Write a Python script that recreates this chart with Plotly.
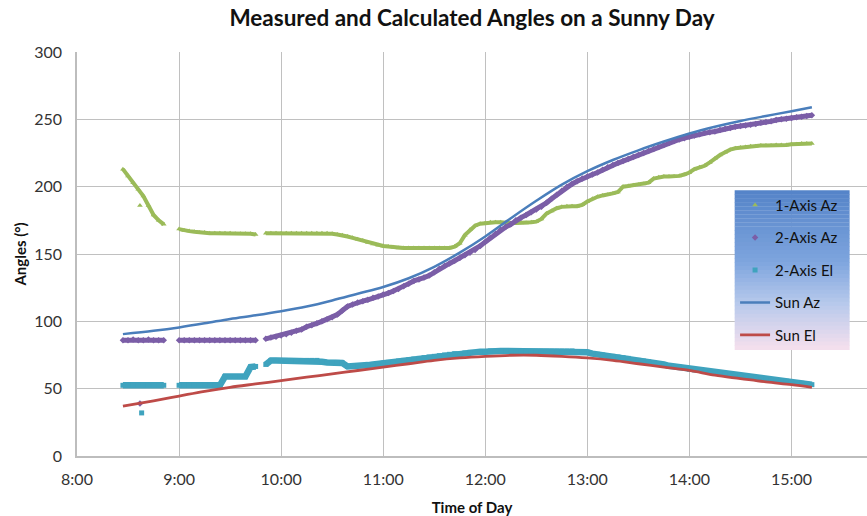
import plotly.graph_objects as go

# ---------------- data ----------------
title_text = "Measured and Calculated Angles on a Sunny Day"
x_tick_vals = [8, 9, 10, 11, 12, 13, 14, 15]
x_tick_text = ["8:00", "9:00", "10:00", "11:00", "12:00", "13:00", "14:00", "15:00"]

# measured samples every 3 minutes, 8:27 .. 15:12 (minutes after midnight)
meas_minutes = list(range(507, 913, 3))

axis1_az = [
    213, 208, 203, 198, 193, 186, 179, 175, 172, None,
    None, 168.5, 167.5, 167, 166.5, 166, 166, 165.5, 165.5, 165.5,
    165.5, 165.5, 165, 165, 165, 165, 164.5, None, 165.5, 165.5,
    165.5, 165.5, 165.5, 165.5, 165.5, 165.5, 165.5, 165.5, 165.5, 165.5,
    165.5, 165, 164.5, 164, 163, 162, 161, 160, 158.5, 157.5,
    156.5, 156, 155.5, 155, 154.5, 154.5, 154.5, 154.5, 154.5, 154.5,
    154.5, 154.5, 154.5, 154.5, 154.5, 155.5, 158, 164, 168, 171,
    172.5, 173, 173.5, 173.5, 173.5, 173, 173, 173, 173, 173,
    173.5, 174, 176, 180, 182, 184, 185, 185.5, 185.5, 185.5,
    186.5, 189, 191, 192.5, 193.5, 194, 195, 196, 200, 200.5,
    201, 201.5, 202, 203, 206, 207, 207.5, 207.5, 207.5, 208,
    209, 210.5, 213, 214.5, 215.5, 218, 221, 223.5, 225.5, 227.5,
    228.5, 229, 229.5, 230, 230, 230.5, 230.5, 230.5, 231, 231,
    231, 231.5, 231.5, 232, 232, 232,
]
axis2_az = [
    86, 86, 86.5, 86, 86, 86.5, 86, 86, 86, None,
    None, 86, 86, 86, 86, 86, 86, 86, 86, 86,
    86, 86, 86, 86, 86, 86, 86, None, 87, 88,
    88.5, 89.5, 90.5, 91.5, 93, 94, 96, 97, 98.5, 100,
    101.5, 103, 105, 108, 111, 112.5, 114, 115, 116, 117.5,
    118.5, 120, 121, 122.5, 124, 126, 128, 130, 131, 132.5,
    134, 136.5, 139, 141, 143, 145, 147, 149, 151, 153,
    156, 159, 162, 165, 168, 170, 172, 175, 177, 179,
    181, 183, 185, 188, 191, 194, 197, 200, 202, 204,
    206, 207.5, 209, 210.5, 212.5, 214.5, 216, 217.5, 219, 220.5,
    222, 223.5, 225, 226.5, 228, 229.5, 231, 232.5, 234, 235,
    236, 237, 238, 239, 240, 240.5, 241, 242, 243, 243.5,
    244.5, 245, 245.5, 246, 246.5, 247.5, 248, 248.5, 249.5, 250,
    250.5, 251, 251.5, 252, 252.5, 253,
]
axis2_el = [
    52.5, 52.5, 52.5, 52.5, 52.5, 52.5, 52.5, 52.5, 52.5, None,
    None, 52.5, 52.5, 52.5, 52.5, 52.5, 52.5, 52.5, 52.5, 52.5,
    59, 59, 59, 59, 59, 66, 66.5, None, 68, 71,
    71, 71, 71, 71, 71, 71, 71, 71, 71, 70,
    69.5, 69.5, 69.5, 69, 66.5, 66.5, 67, 67, 67.5, 68,
    68.5, 69, 69.5, 70, 70.5, 71, 71.5, 72, 72.5, 73,
    73.5, 74, 74.5, 75, 75.5, 76, 76, 76.5, 77, 77,
    77.5, 77.5, 78, 78, 78, 78, 78, 78, 78, 78,
    78, 78, 78, 78, 78, 78, 78, 78, 78, 77.5,
    77.5, 77, 76, 75.5, 75, 74.5, 74, 73.5, 73, 72.5,
    71.5, 71, 70.5, 70, 69, 68.5, 68, 67, 66.5, 66,
    65, 64.5, 64, 63.5, 63, 62.5, 62, 61.5, 61, 60.5,
    60, 59.5, 59, 58.5, 58, 57.5, 57, 56.5, 56.5, 56,
    55.5, 55, 54.5, 54, 53.5, 53,
]
# stray readings (minutes after midnight, value)
axis1_az_extra_min = [517]
axis1_az_extra_val = [186]
axis2_az_extra_min = [517]
axis2_az_extra_val = [39]
axis2_el_extra_min = [518]
axis2_el_extra_val = [32]

# calculated sun position (hours)
sun_hours = [8.45, 8.75, 9.0, 9.25, 9.5, 9.75, 10.0, 10.25, 10.5, 10.75, 11.0, 11.25,
             11.5, 11.75, 12.0, 12.25, 12.5, 12.75, 13.0, 13.25, 13.5, 13.75, 14.0,
             14.25, 14.5, 14.75, 15.0, 15.2]
sun_az = [90.5, 93, 95.5, 98.5, 101.8, 104.5, 107.5, 111, 115.5, 120.5, 125.5, 132,
          140.5, 151, 163, 176.5, 189.5, 201.5, 211.5, 219.8, 227, 233.5, 239.5,
          244.5, 248.8, 252.5, 256, 259]
sun_el = [37, 41, 44.5, 48, 51, 53.5, 56, 58.5, 61, 63.5, 66, 68.5,
          71, 72.8, 74, 74.8, 74.8, 74, 72.8, 71, 68.5, 66, 63.5,
          60, 57.5, 55, 53, 51]

# ---------------- figure ----------------
FONT = "Lato"
meas_hours = [m / 60 for m in meas_minutes]

fig = go.Figure()

def add_meas(name, vals, xm, xv, color, symbol, size, band, group):
    # dense band of readings (drawn as a thick trail under the markers)
    fig.add_trace(go.Scatter(
        x=meas_hours, y=vals, mode="lines", showlegend=False, legendgroup=group,
        hoverinfo="skip", connectgaps=False,
        line=dict(color=color, width=band)))
    fig.add_trace(go.Scatter(
        x=meas_hours + [m / 60 for m in xm], y=vals + xv, mode="markers", name=name,
        legendgroup=group,
        marker=dict(color=color, symbol=symbol, size=size, line=dict(width=0))))

add_meas("1-Axis Az", axis1_az, axis1_az_extra_min, axis1_az_extra_val, "#9BBB59", "triangle-up", 5, 4, "a")
add_meas("2-Axis Az", axis2_az, axis2_az_extra_min, axis2_az_extra_val, "#7B5EA7", "diamond", 5, 5, "b")
add_meas("2-Axis El", axis2_el, axis2_el_extra_min, axis2_el_extra_val, "#3FA3BE", "square", 5, 6.5, "c")

fig.add_trace(go.Scatter(x=sun_hours, y=sun_az, mode="lines", name="Sun Az", legendgroup="d",
                         line=dict(color="#4A7EBB", width=2.5, shape="spline")))
fig.add_trace(go.Scatter(x=sun_hours, y=sun_el, mode="lines", name="Sun El", legendgroup="e",
                         line=dict(color="#BE4B48", width=2.8, shape="spline")))

# gradient legend background
lx0, lx1, ly0, ly1 = 0.8325, 0.978, 0.2624, 0.6567
stops = [(0.0, (84, 131, 200)), (0.45, (126, 165, 222)), (0.72, (185, 202, 236)), (1.0, (246, 224, 237))]

def col_at(f):
    for (f0, c0), (f1, c1) in zip(stops[:-1], stops[1:]):
        if f0 <= f <= f1:
            t = (f - f0) / (f1 - f0)
            return "rgb(%d,%d,%d)" % tuple(round(a + (b - a) * t) for a, b in zip(c0, c1))
    return "rgb(%d,%d,%d)" % stops[-1][1]

shapes = []
n = 40
for i in range(n):
    ya = ly1 - (ly1 - ly0) * i / n
    yb = ly1 - (ly1 - ly0) * (i + 1) / n
    shapes.append(dict(type="rect", xref="paper", yref="paper", x0=lx0, x1=lx1, y0=yb, y1=ya + 0.001,
                       fillcolor=col_at((i + 0.5) / n), line=dict(width=0), layer="above"))

fig.update_layout(
    width=867, height=516,
    margin=dict(l=77, r=0, t=52, b=60),
    paper_bgcolor="white", plot_bgcolor="white",
    font=dict(family=FONT, color="#333333", size=15),
    title=dict(text="<b>" + title_text + "</b>", x=0.5, xref="paper", xanchor="center",
               y=0.965, yref="container", yanchor="middle",
               font=dict(family=FONT, size=22.5, color="#111111")),
    shapes=shapes,
    showlegend=True,
    legend=dict(x=0.833, y=ly1 + 0.005, xanchor="left", yanchor="top", bgcolor="rgba(0,0,0,0)",
                font=dict(family=FONT, size=15, color="#111111"), tracegroupgap=10,
                traceorder="grouped"),
    xaxis=dict(range=[8, 15.74], tickvals=x_tick_vals, ticktext=x_tick_text,
               showgrid=True, gridcolor="#C0C0C0", gridwidth=1,
               showline=True, linecolor="#BDBDBD", linewidth=1.5,
               zeroline=False, ticks="", tickfont=dict(size=16), ticklabelstandoff=8,
               automargin=False,
               title=dict(text="<b>Time of Day</b>", font=dict(size=15, color="#111111"), standoff=20)),
    yaxis=dict(range=[0, 300], dtick=50, showgrid=True, gridcolor="#C0C0C0", gridwidth=1,
               showline=True, linecolor="#BDBDBD", linewidth=1.5,
               zeroline=False, ticks="", tickfont=dict(size=16), ticklabelstandoff=10,
               automargin=False,
               title=dict(text="<b>Angles (°)</b>", font=dict(size=15, color="#111111"), standoff=4)),
)

fig.write_html("out.html", config={"displayModeBar": False},
               post_script="document.body.style.margin='0px';")
